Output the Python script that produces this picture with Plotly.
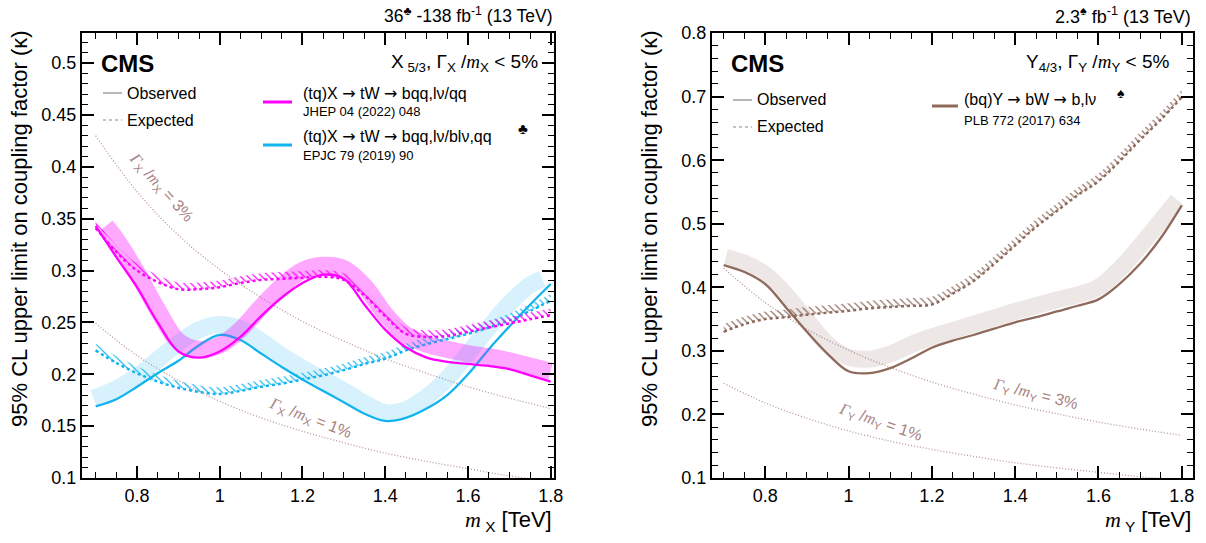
import plotly.graph_objects as go

W, H = 1206, 543

# ---------------- data ----------------
mass = [0.70, 0.75, 0.80, 0.85, 0.90, 0.95, 1.00, 1.05, 1.10, 1.15, 1.20, 1.25,
        1.30, 1.35, 1.40, 1.45, 1.50, 1.55, 1.60, 1.65, 1.70, 1.75, 1.80]

# X5/3, (tq)X -> tW -> bqq,lv/qq  (JHEP 04 (2022) 048)
x53_new_obs = [0.343, 0.313, 0.284, 0.250, 0.222, 0.216, 0.222, 0.236, 0.256, 0.274, 0.288, 0.296,
               0.292, 0.267, 0.243, 0.226, 0.216, 0.212, 0.210, 0.208, 0.205, 0.199, 0.193]
x53_new_exp = [0.341, 0.318, 0.300, 0.289, 0.282, 0.282, 0.284, 0.288, 0.291, 0.292, 0.293, 0.294,
               0.291, 0.276, 0.256, 0.239, 0.236, 0.237, 0.241, 0.245, 0.249, 0.253, 0.257]
x53_new_band_m = [0.725, 0.75, 0.80, 0.85, 0.90, 0.95, 1.00, 1.05, 1.10, 1.15, 1.20, 1.25,
                  1.30, 1.35, 1.40, 1.45, 1.50, 1.55, 1.60, 1.65, 1.70, 1.75, 1.80]
x53_new_band = [0.343, 0.330, 0.298, 0.262, 0.232, 0.224, 0.228, 0.243, 0.265, 0.285, 0.300, 0.305,
                0.302, 0.285, 0.258, 0.238, 0.229, 0.224, 0.220, 0.217, 0.213, 0.208, 0.203]

# X5/3, (tq)X -> tW -> bqq,lv/blv,qq  (EPJC 79 (2019) 90)
x53_old_obs = [0.169, 0.176, 0.188, 0.201, 0.213, 0.228, 0.238, 0.233, 0.220, 0.207, 0.195, 0.184,
               0.173, 0.162, 0.155, 0.158, 0.167, 0.180, 0.200, 0.224, 0.246, 0.267, 0.287]
x53_old_exp = [0.223, 0.211, 0.201, 0.193, 0.187, 0.183, 0.181, 0.184, 0.188, 0.191, 0.195, 0.199,
               0.204, 0.210, 0.215, 0.223, 0.229, 0.234, 0.239, 0.245, 0.252, 0.261, 0.271]
x53_old_band_m = [0.695, 0.75, 0.80, 0.85, 0.90, 0.95, 1.00, 1.05, 1.10, 1.15, 1.20, 1.25,
                  1.30, 1.35, 1.40, 1.45, 1.50, 1.55, 1.60, 1.65, 1.70, 1.75, 1.78]
x53_old_band = [0.177, 0.186, 0.198, 0.214, 0.230, 0.243, 0.248, 0.244, 0.232, 0.218, 0.206, 0.195,
                0.184, 0.172, 0.163, 0.166, 0.178, 0.196, 0.220, 0.245, 0.268, 0.286, 0.292]

# Y4/3, (bq)Y -> bW -> b,lv  (PLB 772 (2017) 634)
y43_obs = [0.435, 0.424, 0.405, 0.368, 0.330, 0.295, 0.268, 0.265, 0.273, 0.288, 0.305, 0.316,
           0.325, 0.335, 0.345, 0.353, 0.362, 0.371, 0.381, 0.405, 0.437, 0.478, 0.529]
y43_exp = [0.330, 0.342, 0.350, 0.353, 0.357, 0.360, 0.363, 0.367, 0.369, 0.371, 0.373, 0.390,
           0.410, 0.437, 0.466, 0.495, 0.520, 0.545, 0.567, 0.598, 0.632, 0.664, 0.699]
y43_band_m = [0.705, 0.75, 0.80, 0.85, 0.90, 0.95, 1.00, 1.05, 1.10, 1.15, 1.20, 1.25,
              1.30, 1.35, 1.40, 1.45, 1.50, 1.55, 1.60, 1.65, 1.70, 1.75, 1.79]
y43_band = [0.447, 0.438, 0.420, 0.388, 0.348, 0.310, 0.290, 0.287, 0.295, 0.310, 0.322, 0.332,
            0.342, 0.352, 0.362, 0.371, 0.380, 0.388, 0.400, 0.428, 0.465, 0.505, 0.537]

# width-to-mass reference curves
gm_mass = [0.70, 0.80, 0.90, 1.00, 1.10, 1.20, 1.30, 1.40, 1.50, 1.60, 1.70, 1.80]
gm_3pct = [0.430, 0.376, 0.334, 0.301, 0.274, 0.251, 0.232, 0.215, 0.201, 0.188, 0.177, 0.167]
gm_1pct = [0.249, 0.218, 0.194, 0.174, 0.158, 0.145, 0.134, 0.124, 0.116, 0.109, 0.102, 0.097]

# ---------------- styles ----------------
MAG = "#ff00ff"
CYA = "#12b4ef"
BRN = "#8e6a5c"
MAG_BAND = "rgba(255,0,255,0.19)"
CYA_BAND = "rgba(18,180,239,0.17)"
BRN_BAND = "rgba(142,106,92,0.16)"
GM_LINE = "#bb9494"
GM_TEXT = "#a88282"
FONT = "Liberation Sans"

# plot areas in pixels
L1, R1 = 82, 554
L2, R2 = 712, 1193
TOP, BOT = 33, 478


def px(x):
    return x / W


def py(y):
    return 1 - y / H


fig = go.Figure()


def add_set(xa, ya, obs, exp, band_m, band, color, band_color, hatch_h, hsize):
    fig.add_trace(go.Scatter(x=band_m, y=band, mode="lines", xaxis=xa, yaxis=ya,
                             line=dict(color=band_color, width=17, shape="spline"),
                             hoverinfo="skip", showlegend=False))
    fig.add_trace(go.Scatter(x=mass, y=exp, mode="lines", xaxis=xa, yaxis=ya,
                             line=dict(color="rgba(0,0,0,0)", width=0, shape="spline"),
                             hoverinfo="skip", showlegend=False))
    fig.add_trace(go.Scatter(x=mass, y=[v + hatch_h for v in exp], mode="lines", xaxis=xa, yaxis=ya,
                             line=dict(color="rgba(0,0,0,0)", width=0, shape="spline"),
                             fill="tonexty", fillcolor="rgba(0,0,0,0)",
                             fillpattern=dict(shape="\\", fgcolor=color, bgcolor="rgba(0,0,0,0)",
                                              size=hsize, solidity=0.22),
                             hoverinfo="skip", showlegend=False))
    fig.add_trace(go.Scatter(x=mass, y=exp, mode="lines", xaxis=xa, yaxis=ya,
                             line=dict(color=color, width=2.5, dash="dot", shape="spline"),
                             hoverinfo="skip", showlegend=False))
    fig.add_trace(go.Scatter(x=mass, y=obs, mode="lines", xaxis=xa, yaxis=ya,
                             line=dict(color=color, width=2.3, shape="spline"),
                             hoverinfo="skip", showlegend=False))


def add_gm(xa, ya):
    for vals in (gm_3pct, gm_1pct):
        fig.add_trace(go.Scatter(x=gm_mass, y=vals, mode="lines", xaxis=xa, yaxis=ya,
                                 line=dict(color=GM_LINE, width=1.3, dash="1px,2px", shape="spline"),
                                 hoverinfo="skip", showlegend=False))


# left panel
fig.add_trace(go.Scatter(x=x53_new_band_m, y=x53_new_band, mode="lines", xaxis="x", yaxis="y",
                         line=dict(color=MAG_BAND, width=17, shape="spline"), hoverinfo="skip",
                         showlegend=False))
add_gm("x", "y")
add_set("x", "y", x53_old_obs, x53_old_exp, x53_old_band_m, x53_old_band, CYA, CYA_BAND, 0.0065, 5)
add_set("x", "y", x53_new_obs, x53_new_exp, x53_new_band_m, x53_new_band, MAG, MAG_BAND, 0.0065, 5)

# right panel
add_gm("x2", "y2")
add_set("x2", "y2", y43_obs, y43_exp, y43_band_m, y43_band, BRN, BRN_BAND, 0.012, 5)

axis_common = dict(showline=True, linecolor="black", linewidth=2, mirror="allticks",
                   ticks="inside", ticklen=12, tickwidth=1.5, tickcolor="black",
                   showgrid=False, zeroline=False, automargin=False,
                   tickfont=dict(family=FONT, size=18, color="black"))


def minor(d):
    return dict(dtick=d, ticks="inside", ticklen=6, tickwidth=1.2, tickcolor="black", showgrid=False)


fig.update_layout(
    template="none",
    width=W, height=H, margin=dict(l=0, r=0, t=0, b=0, pad=0), autosize=False,
    paper_bgcolor="white", plot_bgcolor="white", showlegend=False,
    xaxis=dict(domain=[px(L1), px(R1)], range=[0.667, 1.808], anchor="y",
               tick0=0.8, dtick=0.2, minor=minor(0.05), **axis_common),
    yaxis=dict(domain=[py(BOT), py(TOP)], range=[0.1, 0.529], anchor="x",
               tick0=0.1, dtick=0.05, minor=minor(0.01), **axis_common),
    xaxis2=dict(domain=[px(L2), px(R2)], range=[0.672, 1.827], anchor="y2",
                tick0=0.8, dtick=0.2, minor=minor(0.05), **axis_common),
    yaxis2=dict(domain=[py(BOT), py(TOP)], range=[0.1, 0.8001], anchor="x2",
                tick0=0.1, dtick=0.1, minor=minor(0.02), **axis_common),
)

ann = []


def text(x, y, s, size, xanchor="left", color="black", angle=0, family=FONT):
    ann.append(dict(x=px(x), y=py(y), xref="paper", yref="paper", text=s, showarrow=False,
                    xanchor=xanchor, yanchor="middle", textangle=angle,
                    font=dict(family=family, size=size, color=color)))


def mi(s):
    return '<span style="font-family:Liberation Serif"><i>' + s + '</i></span>'


ARR = '<span style="font-family:DejaVu Sans">→</span>'

YTITLE = "95% CL upper limit on coupling factor (κ)"
for xc in (20, 650):
    text(xc, 229, YTITLE, 22, xanchor="center", angle=-90)

text(R1, 521, mi("m") + "<sub> X</sub> [TeV]", 22, xanchor="right")
text(R2, 521, mi("m") + "<sub> Y</sub> [TeV]", 22, xanchor="right")

text(R1, 15, "36<sup>♣</sup> -138 fb<sup>-1</sup> (13 TeV)", 17.5, xanchor="right")
text(R2, 15, "2.3<sup>♠</sup> fb<sup>-1</sup> (13 TeV)", 18, xanchor="right")

text(99, 63, "<b>CMS</b>", 24)
text(729, 63, "<b>CMS</b>", 24)

text(540, 63, "X<sub> 5/3</sub>, " + "Γ<sub>X</sub> /" + mi("m") + "<sub>X</sub> &lt; 5%", 19, xanchor="right")
text(1171, 63, "Y<sub>4/3</sub>, " + "Γ<sub>Y</sub> /" + mi("m") + "<sub>Y</sub> &lt; 5%", 19, xanchor="right")

# legends
text(125, 93, "Observed", 16)
text(125, 120, "Expected", 16)
text(755, 100, "Observed", 16)
text(755, 127, "Expected", 16)

text(301, 93, "(tq)X " + ARR + " tW " + ARR + " bqq,lν/qq", 16)
text(301, 111, "JHEP 04 (2022) 048", 13)
text(301, 136, "(tq)X " + ARR + " tW " + ARR + " bqq,lν/blν,qq", 16)
text(516, 128, "♣", 15)
text(301, 156, "EPJC 79 (2019) 90", 13)

text(962, 100, "(bq)Y " + ARR + " bW " + ARR + " b,lν", 16)
text(1115, 93, "♠", 14)
text(962, 120, "PLB 772 (2017) 634", 13)

# width labels
gm3 = mi("Γ") + "<sub>X</sub> /" + mi("m") + "<sub>X</sub> = 3%"
gm1 = mi("Γ") + "<sub>X</sub> /" + mi("m") + "<sub>X</sub> = 1%"
text(161, 187, gm3, 16, xanchor="center", color=GM_TEXT, angle=48)
text(310, 418, gm1, 16, xanchor="center", color=GM_TEXT, angle=21)
gy3 = mi("Γ") + "<sub>Y</sub> /" + mi("m") + "<sub>Y</sub> = 3%"
gy1 = mi("Γ") + "<sub>Y</sub> /" + mi("m") + "<sub>Y</sub> = 1%"
text(1035, 394, gy3, 16, xanchor="center", color=GM_TEXT, angle=14)
text(880, 422, gy1, 16, xanchor="center", color=GM_TEXT, angle=19)

fig.update_layout(annotations=ann)

# legend sample lines
shapes = []


def seg(x0, x1, y, color, width, dash="solid"):
    shapes.append(dict(type="line", xref="paper", yref="paper", x0=px(x0), x1=px(x1),
                       y0=py(y), y1=py(y), line=dict(color=color, width=width, dash=dash)))


seg(103, 122, 93, "#888888", 1.2)
seg(103, 122, 120, "#888888", 1.2, "dot")
seg(733, 752, 100, "#888888", 1.2)
seg(733, 752, 127, "#888888", 1.2, "dot")
seg(263, 292, 102, MAG, 3)
seg(263, 292, 145, CYA, 3)
seg(932, 958, 106, BRN, 3)
fig.update_layout(shapes=shapes)

fig.write_html("out.html", config={"responsive": False, "displayModeBar": False},
               post_script="document.body.style.margin='0';document.documentElement.style.overflow='hidden';document.body.style.overflow='hidden';")
